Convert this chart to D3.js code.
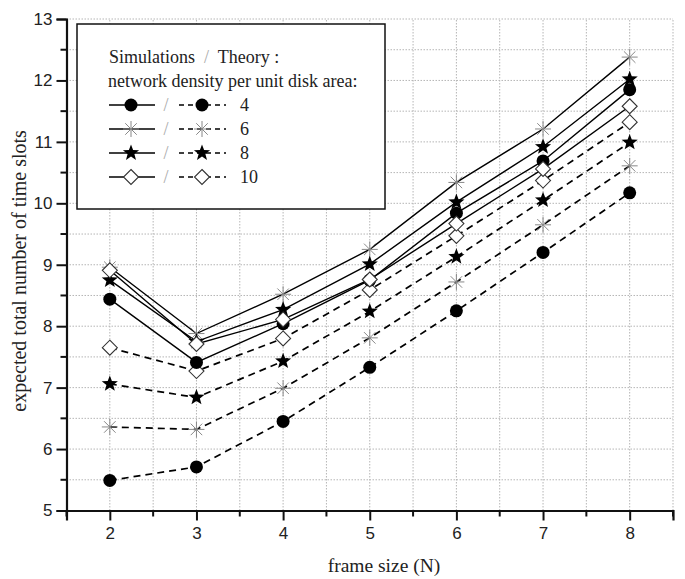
<html>
  <head>
    <meta charset="utf-8">
    <title>frame size</title>
    <script src="https://d3js.org/d3.v7.min.js"></script>
    <style>
      body { margin: 0; background: #fff; }
    </style>
  </head>
  <body>

    <svg id="grafico" width="685" height="579"></svg>

    <script>
    // dados
    let frameSizes = [2, 3, 4, 5, 6, 7, 8];
    let densities = [4, 6, 8, 10];
    let sim4  = [8.44, 7.41, 8.04, 8.75, 9.84, 10.69, 11.85];
    let sim6  = [8.96, 7.88, 8.52, 9.25, 10.34, 11.21, 12.38];
    let sim8  = [8.75, 7.75, 8.27, 9.01, 10.02, 10.92, 12.02];
    let sim10 = [8.91, 7.71, 8.11, 8.76, 9.67, 10.56, 11.58];
    let th4   = [5.49, 5.71, 6.45, 7.33, 8.25, 9.20, 10.17];
    let th6   = [6.36, 6.32, 6.99, 7.81, 8.72, 9.65, 10.61];
    let th8   = [7.06, 6.84, 7.43, 8.24, 9.13, 10.05, 10.99];
    let th10  = [7.65, 7.27, 7.80, 8.59, 9.47, 10.37, 11.32];
    let xTicks = [2, 3, 4, 5, 6, 7, 8];
    let yTicks = [5, 6, 7, 8, 9, 10, 11, 12, 13];

    let simSeries = [sim4, sim6, sim8, sim10];
    let thSeries = [th4, th6, th8, th10];
    let markers = ["circle", "asterisk", "star", "diamond"];

    let svg = d3.select("#grafico");
    let x = d3.scaleLinear().domain([1.5, 8.5]).range([66.5, 673]);
    let y = d3.scaleLinear().domain([5, 13]).range([510.5, 19]);

    // grade pontilhada a cada 0.5
    let gx = d3.range(2, 8.51, 0.5);
    let gy = d3.range(5.5, 13.01, 0.5);
    let grid = svg.append("g").attr("stroke", "#b5b5b5").attr("stroke-width", 1).attr("stroke-dasharray", "1.5,1.5");
    grid.selectAll(".gv").data(gx).enter().append("line")
      .attr("x1", d => x(d)).attr("x2", d => x(d))
      .attr("y1", y(5)).attr("y2", y(13));
    grid.selectAll(".gh").data(gy).enter().append("line")
      .attr("x1", x(1.5)).attr("x2", x(8.5))
      .attr("y1", d => y(d)).attr("y2", d => y(d));

    // simbolos
    function starPath(r) {
      let p = [];
      for (let i = 0; i < 10; i++) {
        let a = -Math.PI / 2 + i * Math.PI / 5;
        let rr = i % 2 == 0 ? r : r * 0.42;
        p.push([rr * Math.cos(a), rr * Math.sin(a)]);
      }
      return "M" + p.map(d => d[0].toFixed(2) + "," + d[1].toFixed(2)).join("L") + "Z";
    }
    function drawMarker(g, type, cx, cy) {
      if (type == "circle") {
        g.append("circle").attr("cx", cx).attr("cy", cy).attr("r", 6.5).attr("fill", "#000");
      } else if (type == "star") {
        g.append("path").attr("d", starPath(8.5)).attr("transform", "translate(" + cx + "," + cy + ")").attr("fill", "#000");
      } else if (type == "diamond") {
        let s = 7.5;
        g.append("path").attr("d", "M0," + (-s) + "L" + s + ",0L0," + s + "L" + (-s) + ",0Z")
          .attr("transform", "translate(" + cx + "," + cy + ")")
          .attr("fill", "#fff").attr("stroke", "#333").attr("stroke-width", 1.1);
      } else {
        let s = 8, d = s * 0.72;
        g.append("path").attr("d", "M0," + (-s) + "V" + s + "M" + (-s) + ",0H" + s +
            "M" + (-d) + "," + (-d) + "L" + d + "," + d + "M" + (-d) + "," + d + "L" + d + "," + (-d))
          .attr("transform", "translate(" + cx + "," + cy + ")")
          .attr("stroke", "#888").attr("stroke-width", 1).attr("fill", "none");
      }
    }

    let line = d3.line().x((d, i) => x(frameSizes[i])).y(d => y(d));

    // linhas teoria (tracejadas)
    thSeries.forEach(function(s) {
      svg.append("path").attr("d", line(s)).attr("fill", "none")
        .attr("stroke", "#000").attr("stroke-width", 1.7).attr("stroke-dasharray", "7,5");
    });
    // linhas simulacao
    simSeries.forEach(function(s) {
      svg.append("path").attr("d", line(s)).attr("fill", "none")
        .attr("stroke", "#000").attr("stroke-width", 1.4);
    });

    let mk = svg.append("g");
    thSeries.forEach(function(s, k) {
      s.forEach((v, i) => drawMarker(mk, markers[k], x(frameSizes[i]), y(v)));
    });
    simSeries.forEach(function(s, k) {
      s.forEach((v, i) => drawMarker(mk, markers[k], x(frameSizes[i]), y(v)));
    });

    // eixos
    let xAxis = d3.axisBottom(x).tickValues(xTicks).tickSize(10).tickPadding(6).tickFormat(d3.format("d"));
    let yAxis = d3.axisLeft(y).tickValues(yTicks).tickSize(10).tickPadding(4).tickFormat(d3.format("d"));
    let ax = svg.append("g").attr("transform", "translate(0," + y(5) + ")").call(xAxis);
    let ay = svg.append("g").attr("transform", "translate(" + x(1.5) + ",0)").call(yAxis);
    [ax, ay].forEach(function(a) {
      a.select(".domain").attr("stroke-width", 2.2).attr("stroke", "#111");
      a.selectAll(".tick line").attr("stroke-width", 2).attr("stroke", "#111");
      a.selectAll("text").attr("font-family", "Liberation Sans, Arial").attr("font-size", 17).attr("fill", "#222");
    });
    // ticks menores
    let minorX = d3.range(1.5, 8.51, 1);
    let minorY = d3.range(5.5, 12.51, 1);
    svg.append("g").selectAll("line").data(minorX).enter().append("line")
      .attr("x1", d => x(d)).attr("x2", d => x(d)).attr("y1", y(5)).attr("y2", y(5) + 6)
      .attr("stroke", "#111").attr("stroke-width", 2);
    svg.append("g").selectAll("line").data(minorY).enter().append("line")
      .attr("x1", x(1.5) - 6).attr("x2", x(1.5)).attr("y1", d => y(d)).attr("y2", d => y(d))
      .attr("stroke", "#111").attr("stroke-width", 2);

    // titulos
    svg.append("text").attr("x", 384).attr("y", 572).attr("text-anchor", "middle")
      .attr("font-family", "Liberation Serif, Times New Roman").attr("font-size", 19.5).attr("fill", "#222")
      .text("frame size (N)");
    svg.append("text").attr("transform", "translate(26," + y(8.9) + ") rotate(-90)").attr("text-anchor", "middle")
      .attr("font-family", "Liberation Serif, Times New Roman").attr("font-size", 20).attr("fill", "#222")
      .text("expected total number of time slots");

    // legenda
    let lg = svg.append("g");
    lg.append("rect").attr("x", 77).attr("y", 24).attr("width", 308).attr("height", 185)
      .attr("fill", "#fff").attr("stroke", "#111").attr("stroke-width", 1.5);
    let lf = "Liberation Serif, Times New Roman";
    lg.append("text").attr("x", 109).attr("y", 63).attr("font-family", lf).attr("font-size", 18).attr("fill", "#222")
      .html('Simulations <tspan fill="#aaa">&#160;/&#160;</tspan> Theory :');
    lg.append("text").attr("x", 108).attr("y", 87).attr("font-family", lf).attr("font-size", 18).attr("fill", "#222")
      .text("network density per unit disk area:");
    densities.forEach(function(dn, k) {
      let yy = 105 + k * 24;
      lg.append("line").attr("x1", 109).attr("x2", 155).attr("y1", yy).attr("y2", yy)
        .attr("stroke", "#000").attr("stroke-width", 1.4);
      drawMarker(lg, markers[k], 131, yy);
      lg.append("text").attr("x", 166).attr("y", yy + 6).attr("text-anchor", "middle")
        .attr("font-family", lf).attr("font-size", 18).attr("fill", "#aaa").text("/");
      lg.append("line").attr("x1", 179).attr("x2", 226).attr("y1", yy).attr("y2", yy)
        .attr("stroke", "#000").attr("stroke-width", 1.5).attr("stroke-dasharray", "5,4");
      drawMarker(lg, markers[k], 202, yy);
      lg.append("text").attr("x", 240).attr("y", yy + 6).attr("font-family", lf).attr("font-size", 18)
        .attr("fill", "#222").text(dn);
    });
    </script>

  </body>
</html>
